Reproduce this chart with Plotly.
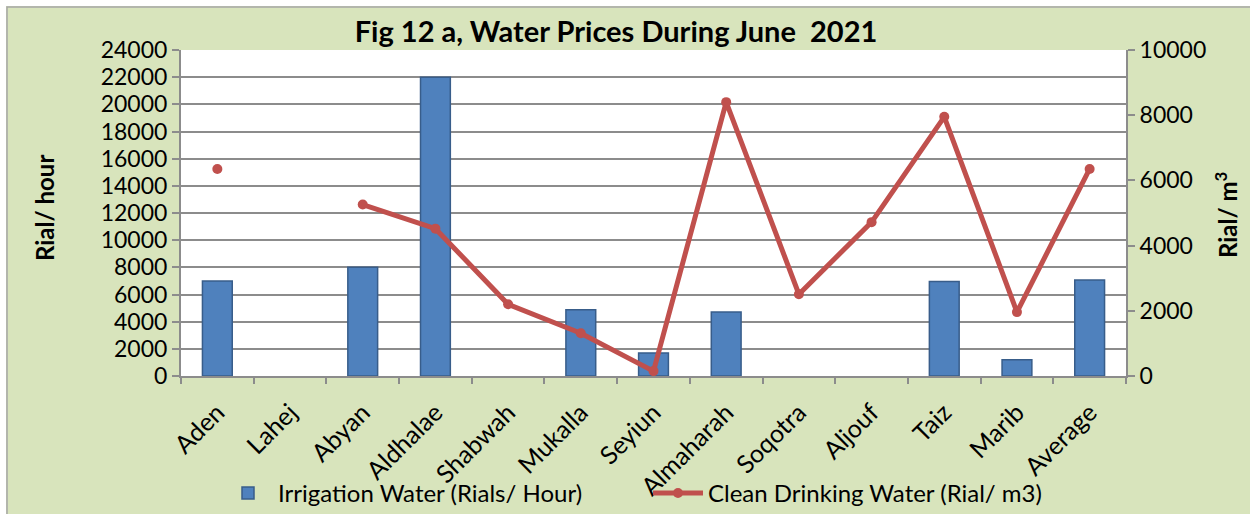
import plotly.graph_objects as go

categories = ["Aden", "Lahej", "Abyan", "Aldhalae", "Shabwah", "Mukalla", "Seyiun",
              "Almaharah", "Soqotra", "Aljouf", "Taiz", "Marib", "Average"]
irrigation = [7000, None, 8000, 22000, None, 4880, 1700, 4720, None, None, 6950, 1200, 7060]
drinking = [6350, None, 5260, 4520, 2200, 1310, 150, 8400, 2510, 4720, 7950, 1960, 6350]

left_ticks = list(range(0, 24001, 2000))
right_ticks = list(range(0, 10001, 2000))

FONT = "Lato"
GREEN = "#D8E4BC"
GRID = "#8C8C8C"

fig = go.Figure()
fig.add_trace(go.Bar(
    x=categories, y=irrigation, name="Irrigation Water (Rials/ Hour)",
    marker=dict(color="#4F81BD", line=dict(color="#385D8A", width=1.5)),
    yaxis="y",
))
fig.add_trace(go.Scatter(
    x=categories, y=drinking, name="Clean Drinking Water (Rial/ m3)",
    mode="lines+markers", connectgaps=False,
    line=dict(color="#C0504D", width=5),
    marker=dict(color="#C0504D", size=10),
    yaxis="y2",
))

fig.update_layout(
    width=1250, height=514,
    margin=dict(l=181, r=124, t=50, b=138, autoexpand=False),
    paper_bgcolor=GREEN, plot_bgcolor="white",
    font=dict(family=FONT, size=22, color="black"),
    bargap=0.59,
    showlegend=True,
    title=dict(text="<b>Fig 12 a, Water Prices During June  2021</b>",
               x=(616) / 1250, xanchor="center", y=1 - 32 / 514, yanchor="middle",
               font=dict(family=FONT, size=29, color="black")),
    xaxis=dict(
        tickangle=-45, tickson="boundaries", ticks="outside", ticklen=6,
        tickcolor=GRID, tickwidth=2, showline=True, linecolor=GRID, linewidth=2,
        tickfont=dict(family=FONT, size=25), automargin=False, ticklabelstandoff=10,
        showgrid=False, range=[-0.5, 12.5],
    ),
    yaxis=dict(
        range=[0, 24000], tickvals=left_ticks, ticktext=[str(v) for v in left_ticks],
        showgrid=True, gridcolor=GRID, gridwidth=1.5, automargin=False,
        ticks="outside", ticklen=7, tickcolor=GRID, tickwidth=2,
        showline=True, linecolor=GRID, linewidth=2,
        tickfont=dict(family=FONT, size=23), zeroline=False,
    ),
    yaxis2=dict(
        range=[0, 10000], tickvals=right_ticks, ticktext=[str(v) for v in right_ticks],
        overlaying="y", side="right", showgrid=False, automargin=False,
        ticks="outside", ticklen=7, tickcolor=GRID, tickwidth=2,
        showline=True, linecolor=GRID, linewidth=2,
        tickfont=dict(family=FONT, size=23), zeroline=False,
    ),
    legend=dict(orientation="h", x=(218 - 181) / 945, xanchor="left", y=-0.36, yanchor="middle",
                bgcolor="rgba(0,0,0,0)", font=dict(family=FONT, size=24),
                itemwidth=50, tracegroupgap=0, entrywidth=365),
    annotations=[
        dict(text="<b>Rial/ hour</b>", xref="paper", yref="paper",
             x=(44 - 181) / 945, y=(376 - 208) / 326, textangle=-90,
             showarrow=False, font=dict(family=FONT, size=24),
             xanchor="center", yanchor="middle"),
        dict(text="<b>Rial/ m<sup>3</sup></b>", xref="paper", yref="paper",
             x=(1226 - 181) / 945, y=(376 - 215) / 326, textangle=-90,
             showarrow=False, font=dict(family=FONT, size=24),
             xanchor="center", yanchor="middle"),
    ],
    shapes=[
        dict(type="rect", xref="paper", yref="paper",
             x0=(0 - 181) / 945, x1=(1250 - 181) / 945,
             y0=(376 - 0) / 326, y1=(376 - 6) / 326,
             fillcolor="white", line=dict(width=0), layer="above"),
        dict(type="rect", xref="paper", yref="paper",
             x0=(0 - 181) / 945, x1=(6 - 181) / 945,
             y0=(376 - 0) / 326, y1=(376 - 514) / 326,
             fillcolor="white", line=dict(width=0), layer="above"),
        dict(type="rect", xref="paper", yref="paper",
             x0=(7 - 181) / 945, x1=(1262 - 181) / 945,
             y0=(376 - 7) / 326, y1=(376 - 530) / 326,
             fillcolor="rgba(0,0,0,0)", line=dict(color="#A6A6A6", width=1.5),
             layer="above"),
    ],
)

fig.write_html(
    "out.html",
    config={"displayModeBar": False},
    post_script="document.body.style.margin='0';document.body.style.padding='0';"
                "document.body.style.overflow='hidden';"
                "document.documentElement.style.overflow='hidden';",
)
